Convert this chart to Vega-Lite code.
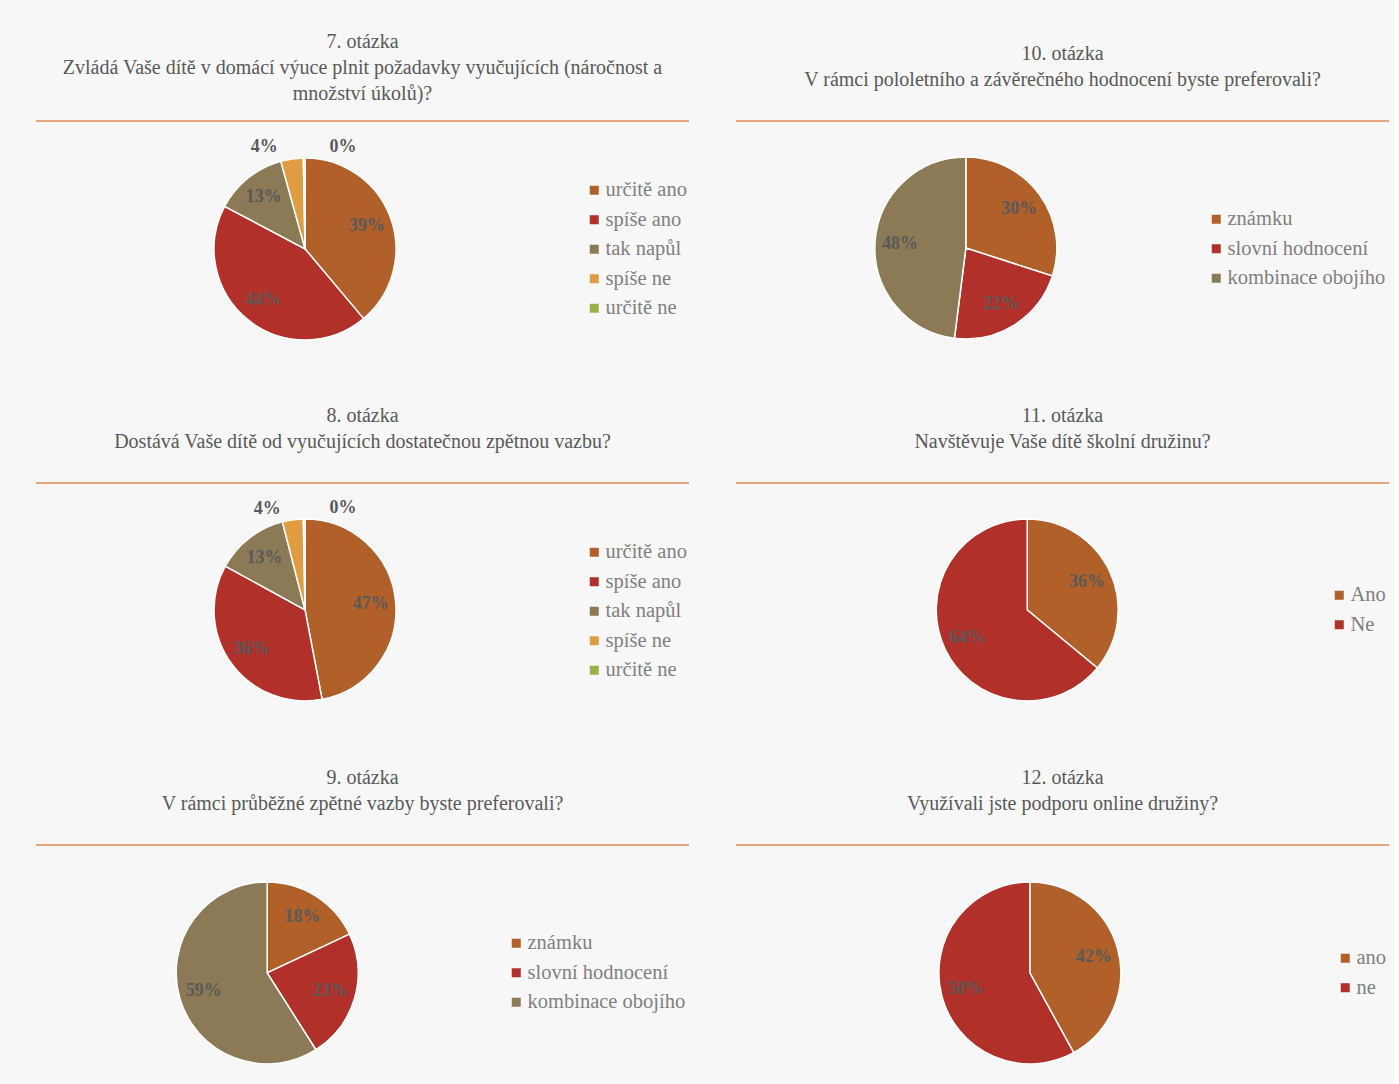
{
  "$schema": "https://vega.github.io/schema/vega-lite/v6.json",
  "background": "#f7f7f7",
  "padding": {"left": 35, "top": 32, "right": 5, "bottom": 0},
  "config": {
    "view": {"stroke": null},
    "font": "Liberation Serif",
    "title": {"font": "Liberation Serif", "fontSize": 20, "fontWeight": "normal", "color": "#595959", "lineHeight": 26, "anchor": "middle"},
    "legend": {"orient": "none", "title": null, "labelFont": "Liberation Serif", "labelFontSize": 20.5, "labelColor": "#7f7f7f", "symbolType": "square", "symbolSize": 81, "symbolStrokeWidth": 0, "rowPadding": 8.5, "labelOffset": 1, "padding": 0},
    "text": {"font": "Liberation Serif"}
  },
  "datasets": {
    "q7": [
      {"odpoved": "určitě ano", "podil": 39, "popisek": "39%", "poradi": 1},
      {"odpoved": "spíše ano", "podil": 44, "popisek": "44%", "poradi": 2},
      {"odpoved": "tak napůl", "podil": 13, "popisek": "13%", "poradi": 3},
      {"odpoved": "spíše ne", "podil": 4, "popisek": "4%", "poradi": 4},
      {"odpoved": "určitě ne", "podil": 0.3, "popisek": "0%", "poradi": 5}
    ],
    "q8": [
      {"odpoved": "určitě ano", "podil": 47, "popisek": "47%", "poradi": 1},
      {"odpoved": "spíše ano", "podil": 36, "popisek": "36%", "poradi": 2},
      {"odpoved": "tak napůl", "podil": 13, "popisek": "13%", "poradi": 3},
      {"odpoved": "spíše ne", "podil": 3.7, "popisek": "4%", "poradi": 4},
      {"odpoved": "určitě ne", "podil": 0.3, "popisek": "0%", "poradi": 5}
    ],
    "q9": [
      {"odpoved": "známku", "podil": 18, "popisek": "18%", "poradi": 1},
      {"odpoved": "slovní hodnocení", "podil": 23, "popisek": "23%", "poradi": 2},
      {"odpoved": "kombinace obojího", "podil": 59, "popisek": "59%", "poradi": 3}
    ],
    "q10": [
      {"odpoved": "známku", "podil": 30, "popisek": "30%", "poradi": 1},
      {"odpoved": "slovní hodnocení", "podil": 22, "popisek": "22%", "poradi": 2},
      {"odpoved": "kombinace obojího", "podil": 48, "popisek": "48%", "poradi": 3}
    ],
    "q11": [
      {"odpoved": "Ano", "podil": 36, "popisek": "36%", "poradi": 1},
      {"odpoved": "Ne", "podil": 64, "popisek": "64%", "poradi": 2}
    ],
    "q12": [
      {"odpoved": "ano", "podil": 42, "popisek": "42%", "poradi": 1},
      {"odpoved": "ne", "podil": 58, "popisek": "58%", "poradi": 2}
    ]
  },
  "columns": 2,
  "bounds": "flush",
  "spacing": {"row": 122, "column": 47},
  "resolve": {"scale": {"color": "independent", "theta": "independent", "x": "independent", "y": "independent"}, "legend": {"color": "independent"}},
  "concat": [
    {
      "width": 653, "height": 240,
      "data": {"name": "q7"},
      "title": {"text": ["7. otázka", "Zvládá Vaše dítě v domácí výuce plnit požadavky vyučujících (náročnost a", "množství úkolů)?"], "offset": 16},
      "encoding": {
        "theta": {"field": "podil", "type": "quantitative", "stack": true},
        "order": {"field": "poradi", "type": "quantitative"},
        "x": {"datum": 0.412, "type": "quantitative", "scale": {"domain": [0, 1]}, "axis": null},
        "y": {"datum": 0.467, "type": "quantitative", "scale": {"domain": [0, 1]}, "axis": null}
      },
      "layer": [
        {"data": {"values": [{}]}, "mark": {"type": "rule", "color": "#DE8B57", "strokeWidth": 1.3}, "encoding": {"theta": null, "order": null, "x": null, "y": {"datum": 1, "type": "quantitative"}}},
        {"mark": {"type": "arc", "outerRadius": 91, "stroke": "#ffffff", "strokeWidth": 1.5},
         "encoding": {"color": {"field": "odpoved", "type": "nominal", "scale": {"domain": ["určitě ano", "spíše ano", "tak napůl", "spíše ne", "určitě ne"], "range": ["#B1602A", "#B1302A", "#8B7A55", "#E09C40", "#9CB04A"]}, "legend": {"legendX": 548, "legendY": 59}}}},
        {"mark": {"type": "text", "radius": 66, "fontWeight": "bold", "fontSize": 18, "color": "#595959"},
         "encoding": {"detail": {"field": "odpoved"}, "text": {"field": "popisek", "condition": {"test": "datum.podil < 5", "value": ""}}}},
        {"mark": {"type": "text", "radius": 110, "fontWeight": "bold", "fontSize": 18, "color": "#595959", "dx": -25, "dy": 7},
         "encoding": {"detail": {"field": "odpoved"}, "text": {"field": "popisek", "condition": {"test": "datum.odpoved !== 'spíše ne'", "value": ""}}}},
        {"mark": {"type": "text", "radius": 110, "fontWeight": "bold", "fontSize": 18, "color": "#595959", "dx": 39, "dy": 8},
         "encoding": {"detail": {"field": "odpoved"}, "text": {"field": "popisek", "condition": {"test": "datum.odpoved !== 'určitě ne'", "value": ""}}}}
      ]
    },
    {
      "width": 653, "height": 240,
      "data": {"name": "q10"},
      "title": {"text": ["10. otázka", "V rámci pololetního a závěrečného hodnocení byste preferovali?"], "offset": 30},
      "encoding": {
        "theta": {"field": "podil", "type": "quantitative", "stack": true},
        "order": {"field": "poradi", "type": "quantitative"},
        "x": {"datum": 0.352, "type": "quantitative", "scale": {"domain": [0, 1]}, "axis": null},
        "y": {"datum": 0.471, "type": "quantitative", "scale": {"domain": [0, 1]}, "axis": null}
      },
      "layer": [
        {"data": {"values": [{}]}, "mark": {"type": "rule", "color": "#DE8B57", "strokeWidth": 1.3}, "encoding": {"theta": null, "order": null, "x": null, "y": {"datum": 1, "type": "quantitative"}}},
        {"mark": {"type": "arc", "outerRadius": 91, "stroke": "#ffffff", "strokeWidth": 1.5},
         "encoding": {"color": {"field": "odpoved", "type": "nominal", "scale": {"domain": ["známku", "slovní hodnocení", "kombinace obojího"], "range": ["#B1602A", "#B1302A", "#8B7A55"]}, "legend": {"legendX": 470, "legendY": 88}}}},
        {"mark": {"type": "text", "radius": 66, "fontWeight": "bold", "fontSize": 18, "color": "#595959"},
         "encoding": {"detail": {"field": "odpoved"}, "text": {"field": "popisek"}}}
      ]
    },
    {
      "width": 653, "height": 240,
      "data": {"name": "q8"},
      "title": {"text": ["8. otázka", "Dostává Vaše dítě od vyučujících dostatečnou zpětnou vazbu?"], "offset": 30},
      "encoding": {
        "theta": {"field": "podil", "type": "quantitative", "stack": true},
        "order": {"field": "poradi", "type": "quantitative"},
        "x": {"datum": 0.412, "type": "quantitative", "scale": {"domain": [0, 1]}, "axis": null},
        "y": {"datum": 0.471, "type": "quantitative", "scale": {"domain": [0, 1]}, "axis": null}
      },
      "layer": [
        {"data": {"values": [{}]}, "mark": {"type": "rule", "color": "#DE8B57", "strokeWidth": 1.3}, "encoding": {"theta": null, "order": null, "x": null, "y": {"datum": 1, "type": "quantitative"}}},
        {"mark": {"type": "arc", "outerRadius": 91, "stroke": "#ffffff", "strokeWidth": 1.5},
         "encoding": {"color": {"field": "odpoved", "type": "nominal", "scale": {"domain": ["určitě ano", "spíše ano", "tak napůl", "spíše ne", "určitě ne"], "range": ["#B1602A", "#B1302A", "#8B7A55", "#E09C40", "#9CB04A"]}, "legend": {"legendX": 548, "legendY": 59}}}},
        {"mark": {"type": "text", "radius": 66, "fontWeight": "bold", "fontSize": 18, "color": "#595959"},
         "encoding": {"detail": {"field": "odpoved"}, "text": {"field": "popisek", "condition": {"test": "datum.podil < 5", "value": ""}}}},
        {"mark": {"type": "text", "radius": 110, "fontWeight": "bold", "fontSize": 18, "color": "#595959", "dx": -23, "dy": 8},
         "encoding": {"detail": {"field": "odpoved"}, "text": {"field": "popisek", "condition": {"test": "datum.odpoved !== 'spíše ne'", "value": ""}}}},
        {"mark": {"type": "text", "radius": 110, "fontWeight": "bold", "fontSize": 18, "color": "#595959", "dx": 39, "dy": 8},
         "encoding": {"detail": {"field": "odpoved"}, "text": {"field": "popisek", "condition": {"test": "datum.odpoved !== 'určitě ne'", "value": ""}}}}
      ]
    },
    {
      "width": 653, "height": 240,
      "data": {"name": "q11"},
      "title": {"text": ["11. otázka", "Navštěvuje Vaše dítě školní družinu?"], "offset": 30},
      "encoding": {
        "theta": {"field": "podil", "type": "quantitative", "stack": true},
        "order": {"field": "poradi", "type": "quantitative"},
        "x": {"datum": 0.446, "type": "quantitative", "scale": {"domain": [0, 1]}, "axis": null},
        "y": {"datum": 0.471, "type": "quantitative", "scale": {"domain": [0, 1]}, "axis": null}
      },
      "layer": [
        {"data": {"values": [{}]}, "mark": {"type": "rule", "color": "#DE8B57", "strokeWidth": 1.3}, "encoding": {"theta": null, "order": null, "x": null, "y": {"datum": 1, "type": "quantitative"}}},
        {"mark": {"type": "arc", "outerRadius": 91, "stroke": "#ffffff", "strokeWidth": 1.5},
         "encoding": {"color": {"field": "odpoved", "type": "nominal", "scale": {"domain": ["Ano", "Ne"], "range": ["#B1602A", "#B1302A"]}, "legend": {"legendX": 593, "legendY": 102}}}},
        {"mark": {"type": "text", "radius": 66, "fontWeight": "bold", "fontSize": 18, "color": "#595959"},
         "encoding": {"detail": {"field": "odpoved"}, "text": {"field": "popisek"}}}
      ]
    },
    {
      "width": 653, "height": 240,
      "data": {"name": "q9"},
      "title": {"text": ["9. otázka", "V rámci průběžné zpětné vazby byste preferovali?"], "offset": 30},
      "encoding": {
        "theta": {"field": "podil", "type": "quantitative", "stack": true},
        "order": {"field": "poradi", "type": "quantitative"},
        "x": {"datum": 0.354, "type": "quantitative", "scale": {"domain": [0, 1]}, "axis": null},
        "y": {"datum": 0.467, "type": "quantitative", "scale": {"domain": [0, 1]}, "axis": null}
      },
      "layer": [
        {"data": {"values": [{}]}, "mark": {"type": "rule", "color": "#DE8B57", "strokeWidth": 1.3}, "encoding": {"theta": null, "order": null, "x": null, "y": {"datum": 1, "type": "quantitative"}}},
        {"mark": {"type": "arc", "outerRadius": 91, "stroke": "#ffffff", "strokeWidth": 1.5},
         "encoding": {"color": {"field": "odpoved", "type": "nominal", "scale": {"domain": ["známku", "slovní hodnocení", "kombinace obojího"], "range": ["#B1602A", "#B1302A", "#8B7A55"]}, "legend": {"legendX": 470, "legendY": 88}}}},
        {"mark": {"type": "text", "radius": 66, "fontWeight": "bold", "fontSize": 18, "color": "#595959"},
         "encoding": {"detail": {"field": "odpoved"}, "text": {"field": "popisek"}}}
      ]
    },
    {
      "width": 653, "height": 240,
      "data": {"name": "q12"},
      "title": {"text": ["12. otázka", "Využívali jste podporu online družiny?"], "offset": 30},
      "encoding": {
        "theta": {"field": "podil", "type": "quantitative", "stack": true},
        "order": {"field": "poradi", "type": "quantitative"},
        "x": {"datum": 0.450, "type": "quantitative", "scale": {"domain": [0, 1]}, "axis": null},
        "y": {"datum": 0.467, "type": "quantitative", "scale": {"domain": [0, 1]}, "axis": null}
      },
      "layer": [
        {"data": {"values": [{}]}, "mark": {"type": "rule", "color": "#DE8B57", "strokeWidth": 1.3}, "encoding": {"theta": null, "order": null, "x": null, "y": {"datum": 1, "type": "quantitative"}}},
        {"mark": {"type": "arc", "outerRadius": 91, "stroke": "#ffffff", "strokeWidth": 1.5},
         "encoding": {"color": {"field": "odpoved", "type": "nominal", "scale": {"domain": ["ano", "ne"], "range": ["#B1602A", "#B1302A"]}, "legend": {"legendX": 599, "legendY": 103}}}},
        {"mark": {"type": "text", "radius": 66, "fontWeight": "bold", "fontSize": 18, "color": "#595959"},
         "encoding": {"detail": {"field": "odpoved"}, "text": {"field": "popisek"}}}
      ]
    }
  ]
}
